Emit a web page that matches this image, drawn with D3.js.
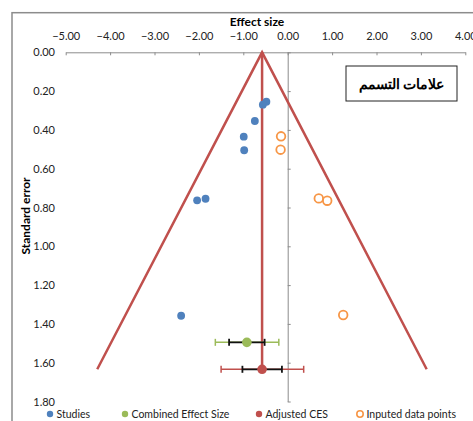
<!DOCTYPE html>
<html><head><meta charset="utf-8">
<script src="https://cdn.jsdelivr.net/npm/d3@7"></script>
<style>
html,body{margin:0;padding:0;background:#fff;}
text{font-family:Lato,"Liberation Sans",sans-serif;}
</style></head>
<body><svg id="c" width="473" height="421"></svg>
<script>
// ---- data ----
const xTicks = [-5,-4,-3,-2,-1,0,1,2,3,4];
const yTicks = [0,0.2,0.4,0.6,0.8,1.0,1.2,1.4,1.6,1.8];
const studiesES = [-0.48,-0.56,-0.74,-0.99,-0.98,-2.04,-1.85,-2.40];
const studiesSE = [0.255,0.27,0.354,0.435,0.505,0.763,0.755,1.358];
const imputedES = [-0.15,-0.16,0.70,0.89,1.25];
const imputedSE = [0.433,0.502,0.753,0.765,1.354];
const combinedES = [-0.92], combinedSE = [1.495];
const combinedCI = [-1.63,-0.20], combinedInner = [-1.32,-0.52];
const adjustedES = [-0.577], adjustedSE = [1.634];
const adjustedCI = [-1.50,0.36], adjustedInner = [-1.02,-0.13];
const funnelES = [-4.29,-0.577,3.13];
const funnelSE = [1.634,0,1.634];
const legendLabels = ["Studies","Combined Effect Size","Adjusted CES","Inputed data points"];
const titleText = "علامات التسمم";

const C = {blue:"#4F81BD", green:"#9BBB59", red:"#C0504D", orange:"#F79646"};
const svg = d3.select("#c");
const x = d3.scaleLinear().domain([-5,4]).range([65.7,465.3]);
const y = d3.scaleLinear().domain([0,1.8]).range([52.3,401.5]);

// chart border
svg.append("rect").attr("x",12).attr("y",12.7).attr("width",470).attr("height",420)
  .attr("fill","none").attr("stroke","#8c8c8c").attr("stroke-width",1.5);

// x axis (top)
const gx = svg.append("g").attr("transform",`translate(0,${y(0)})`)
  .call(d3.axisTop(x).tickValues(xTicks).tickFormat(d3.format(".2f")).tickSizeInner(-3).tickSizeOuter(0).tickPadding(12));
gx.select(".domain").attr("stroke","#8c8c8c");
gx.selectAll(".tick line").attr("stroke","#8c8c8c");
gx.selectAll("text").attr("font-size",11).attr("fill","#222").attr("font-family","Lato,sans-serif");

// y axis line at x=0
const gy = svg.append("g").attr("transform",`translate(${x(0)},0)`)
  .call(d3.axisRight(y).tickValues(yTicks).tickFormat("").tickSizeInner(3).tickSizeOuter(0));
gy.select(".domain").attr("stroke","#8c8c8c");
gy.selectAll(".tick line").attr("stroke","#8c8c8c");
// y labels (low)
const gyl = svg.append("g").attr("transform","translate(55,0)")
  .call(d3.axisLeft(y).tickValues(yTicks).tickFormat(d3.format(".2f")).tickSize(0).tickPadding(0));
gyl.select(".domain").remove();
gyl.selectAll("text").attr("font-size",11).attr("fill","#222").attr("font-family","Lato,sans-serif");

// axis titles
svg.append("text").attr("x",257).attr("y",26).attr("text-anchor","middle")
  .attr("font-size",12).attr("font-weight","bold").text("Effect size");
svg.append("text").attr("transform","translate(30,216) rotate(-90)").attr("text-anchor","middle")
  .attr("font-size",12).attr("font-weight","bold").text("Standard error");

// funnel
const line = d3.line().x(d=>x(d[0])).y(d=>y(d[1]));
svg.append("path").datum(funnelES.map((e,i)=>[e,funnelSE[i]])).attr("d",line)
  .attr("fill","none").attr("stroke",C.red).attr("stroke-width",2.5);
svg.append("path").datum([[adjustedES[0],0],[adjustedES[0],adjustedSE[0]]]).attr("d",line)
  .attr("fill","none").attr("stroke",C.red).attr("stroke-width",2.5);

// studies
svg.append("g").selectAll("circle").data(studiesES).join("circle")
  .attr("cx",d=>x(d)).attr("cy",(d,i)=>y(studiesSE[i])).attr("r",3.9).attr("fill",C.blue);
// imputed
svg.append("g").selectAll("circle").data(imputedES).join("circle")
  .attr("cx",d=>x(d)).attr("cy",(d,i)=>y(imputedSE[i])).attr("r",4.3)
  .attr("fill","none").attr("stroke",C.orange).attr("stroke-width",1.8);

// error bars
function errBar(ci, inner, se, col){
  const g = svg.append("g"); const yy = y(se);
  g.append("line").attr("x1",x(ci[0])).attr("x2",x(ci[1])).attr("y1",yy).attr("y2",yy).attr("stroke",col).attr("stroke-width",1.5);
  ci.forEach(v=>g.append("line").attr("x1",x(v)).attr("x2",x(v)).attr("y1",yy-3.5).attr("y2",yy+3.5).attr("stroke",col).attr("stroke-width",1.5));
  g.append("line").attr("x1",x(inner[0])).attr("x2",x(inner[1])).attr("y1",yy).attr("y2",yy).attr("stroke","#111").attr("stroke-width",1.8);
  inner.forEach(v=>g.append("line").attr("x1",x(v)).attr("x2",x(v)).attr("y1",yy-3.5).attr("y2",yy+3.5).attr("stroke","#111").attr("stroke-width",1.8));
}
errBar(combinedCI, combinedInner, combinedSE[0], C.green);
errBar(adjustedCI, adjustedInner, adjustedSE[0], C.red);
svg.append("circle").attr("cx",x(combinedES[0])).attr("cy",y(combinedSE[0])).attr("r",4.8).attr("fill",C.green);
svg.append("circle").attr("cx",x(adjustedES[0])).attr("cy",y(adjustedSE[0])).attr("r",4.8).attr("fill",C.red);

// title box
svg.append("rect").attr("x",346).attr("y",66).attr("width",111).attr("height",35)
  .attr("fill","#fff").attr("stroke","#222").attr("stroke-width",1);
svg.append("text").attr("x",401.5).attr("y",89).attr("text-anchor","middle")
  .attr("font-family","'DejaVu Sans',sans-serif").attr("font-weight","bold").attr("font-size",14)
  .attr("direction","rtl").text(titleText);

// legend
const legX = [50,125,259,360];
const legCol = [C.blue,C.green,C.red,C.orange];
legendLabels.forEach((l,i)=>{
  if(i===3) svg.append("circle").attr("cx",legX[i]).attr("cy",414).attr("r",3.2).attr("fill","none").attr("stroke",legCol[i]).attr("stroke-width",1.6);
  else svg.append("circle").attr("cx",legX[i]).attr("cy",414).attr("r",3.2).attr("fill",legCol[i]);
  svg.append("text").attr("x",legX[i]+6.5).attr("y",418).attr("font-size",10.5).attr("fill","#222").text(l);
});
</script></body></html>
